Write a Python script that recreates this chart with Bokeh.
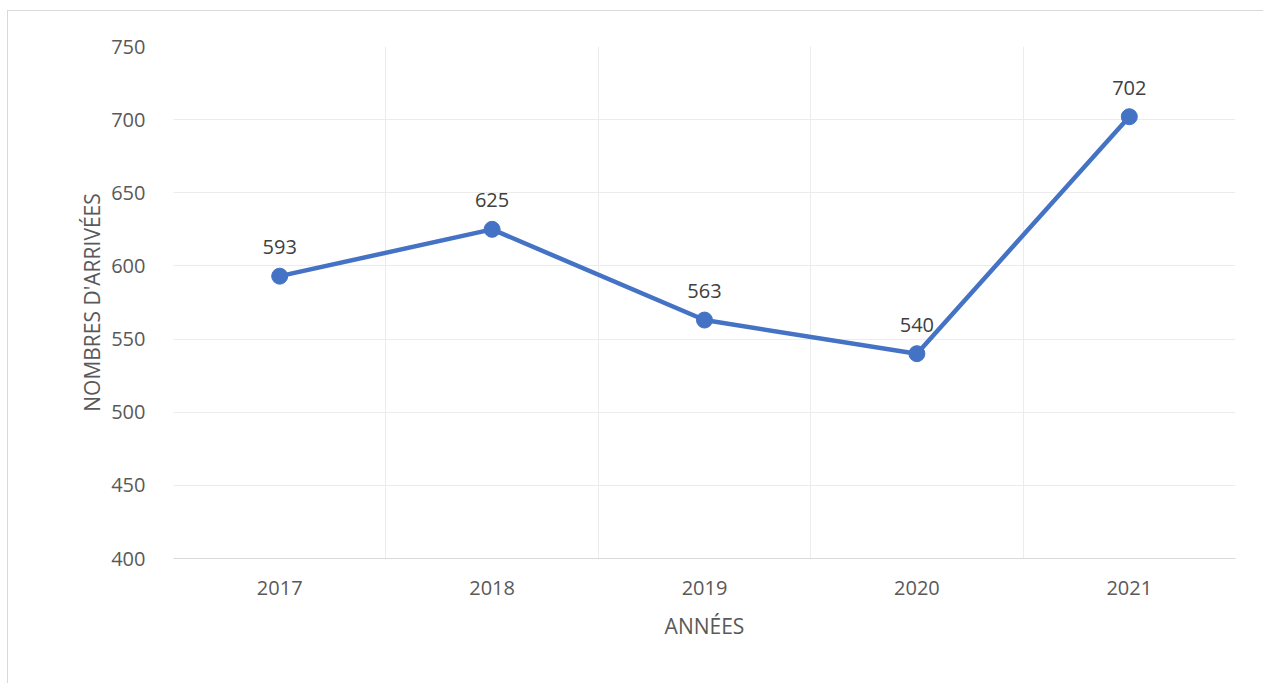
from bokeh.plotting import figure
from bokeh.models import Range1d, FixedTicker, Grid, ColumnDataSource, LabelSet
from bokeh.core.properties import value
from bokeh.embed import file_html
from bokeh.resources import INLINE

years = ["2017", "2018", "2019", "2020", "2021"]
arrivals = [593, 625, 563, 540, 702]
y_ticks = [400, 450, 500, 550, 600, 650, 700, 750]

xs = [i + 0.5 for i in range(len(years))]
src = ColumnDataSource(dict(x=xs, y=arrivals, lab=[str(v) for v in arrivals]))

FONT = "Open Sans"
p = figure(width=1255, height=672, output_backend="svg", toolbar_location=None,
           x_range=Range1d(0, len(years)), y_range=Range1d(400, 750),
           min_border_left=165, min_border_right=28, min_border_top=35, min_border_bottom=125,
           frame_width=1062, frame_height=512,
           styles={"border-left": "1px solid #d9d9d9", "border-top": "1px solid #d9d9d9",
                   "margin-top": "10px", "margin-left": "7px"})
p.outline_line_color = None
p.background_fill_color = "white"

# grid
p.xgrid.visible = False
p.ygrid.ticker = FixedTicker(ticks=y_ticks)
p.ygrid.grid_line_color = "#ececec"
p.ygrid.grid_line_width = 1
vgrid = Grid(dimension=0, ticker=FixedTicker(ticks=list(range(len(years) + 1))),
             grid_line_color="#ececec", grid_line_width=1)
p.add_layout(vgrid)

# axes
p.xaxis.ticker = FixedTicker(ticks=xs)
p.xaxis.major_label_overrides = {x: y for x, y in zip(xs, years)}
p.xaxis.axis_line_color = "#d9d9d9"
p.xaxis.major_tick_line_color = None
p.xaxis.minor_tick_line_color = None
p.xaxis.major_label_standoff = 16
p.xaxis.axis_label = "ANNÉES"
p.xaxis.axis_label_standoff = 14

p.yaxis.ticker = FixedTicker(ticks=y_ticks)
p.yaxis.axis_line_color = None
p.yaxis.major_tick_line_color = None
p.yaxis.minor_tick_line_color = None
p.yaxis.major_label_standoff = 22
p.yaxis.axis_label = "NOMBRES D'ARRIVÉES"
p.yaxis.axis_label_standoff = 2

for ax in (p.xaxis[0], p.yaxis[0]):
    ax.major_label_text_font = FONT
    ax.major_label_text_font_size = "20px"
    ax.major_label_text_color = "#595959"
    ax.axis_label_text_font = FONT
    ax.axis_label_text_font_size = "21px"
    ax.axis_label_text_font_style = "normal"
    ax.axis_label_text_color = "#595959"

p.line("x", "y", source=src, line_color="#4472C4", line_width=4.5)
p.scatter("x", "y", source=src, size=16, fill_color="#4472C4", line_color="#4472C4")

labels = LabelSet(x="x", y="y", text="lab", source=src, y_offset=22,
                  text_align="center", text_baseline="bottom",
                  text_font=value(FONT), text_font_size="20px", text_color="#404040")
p.add_layout(labels)

open("out.html", "w").write(file_html(p, INLINE))
